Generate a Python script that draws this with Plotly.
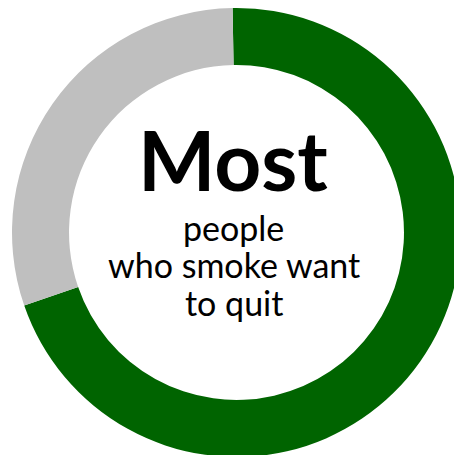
import plotly.graph_objects as go

labels = ["Want to quit", "Other"]
values = [70, 30]
colors = ["#006400", "#BFBFBF"]

headline = "Most"
subtext = ["people", "who smoke want", "to quit"]

W, H = 461, 457
L, T = 12, 8
PH = H - T  # plot height


def py(pix):
    return 1 - (pix - T) / PH


fig = go.Figure()
fig.add_trace(go.Pie(
    labels=labels, values=values, hole=0.746, sort=False,
    direction="clockwise", rotation=-1,
    marker=dict(colors=colors, line=dict(width=0)),
    textinfo="none", hoverinfo="label+percent", showlegend=False,
))

fig.add_annotation(x=0.492, y=py(158.5), xref="paper", yref="paper",
                   text="<b>" + headline + "</b>", showarrow=False,
                   xanchor="center", yanchor="middle",
                   font=dict(family="Lato", size=82, color="#000000"))

sub_size = 34
for line, base in zip(subtext, [240, 277.7, 315.5]):
    fig.add_annotation(x=0.494, y=py(base - 0.375 * sub_size), xref="paper", yref="paper",
                       text=line, showarrow=False,
                       xanchor="center", yanchor="middle",
                       font=dict(family="Lato", size=sub_size, color="#000000"))

fig.update_layout(width=W, height=H, margin=dict(l=L, r=0, t=T, b=0),
                  paper_bgcolor="white", plot_bgcolor="white")

fig.write_html("out.html",
               post_script="document.documentElement.style.overflow='hidden';document.body.style.overflow='hidden';document.body.style.margin='0';")
